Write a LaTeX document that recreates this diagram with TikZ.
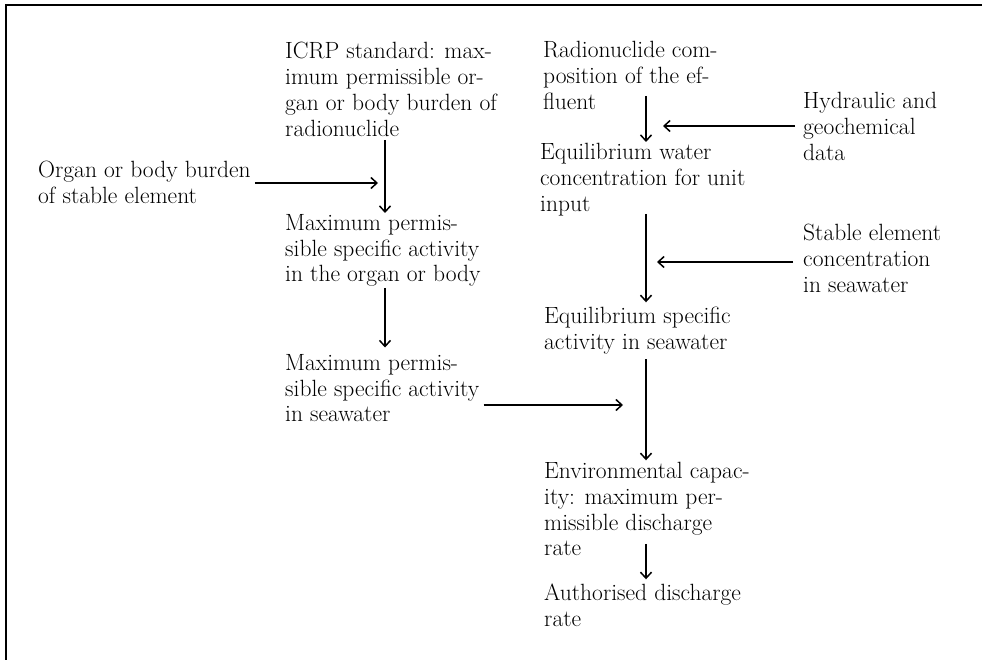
\documentclass[tikz,border=0pt]{standalone}
\usetikzlibrary{arrows.meta,positioning}
\begin{document}
\begin{tikzpicture}[x=1pt,y=-1pt,
	box/.style={anchor=north west,inner sep=0pt,align=left,font=\fontsize{23.5}{25.8}\selectfont},
	flow/.style={line width=1.5pt,-{Straight Barb[length=6pt,width=11pt]}}]
		\useasboundingbox (0,0) rectangle (982,660);
		\draw[line width=2.5pt] (6,660) -- (6,5) -- (982,5);

		\coordinate (lcol) at (385,0);
		\coordinate (rcol) at (646,0);

		% left column
		\node[box] (icrp) at (285,42) {ICRP standard: max-\\imum permissible or-\\gan or body burden of\\radionuclide};
		\node[box] (organ) at (38,161) {Organ or body burden\\of stable element};
		\node[box] (maxorgan) at (285,214) {Maximum permis-\\sible specific activity\\in the organ or body};
		\node[box] (maxsea) at (285,354) {Maximum permis-\\sible specific activity\\in seawater};

		% right column
		\node[box] (radio) at (543,41) {Radionuclide com-\\position of the ef-\\fluent};
		\node[box] (hydro) at (803,92) {Hydraulic and\\geochemical\\data};
		\node[box] (eqwater) at (540,143) {Equilibrium water\\concentration for unit\\input};
		\node[box] (stable) at (803,224) {Stable element\\concentration\\in seawater};
		\node[box] (eqspec) at (544,307) {Equilibrium specific\\activity in seawater};
		\node[box] (capacity) at (544,462) {Environmental capac-\\ity: maximum per-\\missible discharge\\rate};
		\node[box] (authorised) at (544,584) {Authorised discharge\\rate};

		\coordinate (in1) at (378,183);
		\coordinate (in2) at (663,126);
		\coordinate (in3) at (657,262);
		\coordinate (in4) at (623,405);

		\draw[flow] ([yshift=-3.5pt]icrp.south -| lcol) -- ([yshift=1pt]maxorgan.north -| lcol);
		\draw[flow] ([yshift=-1pt]maxorgan.south -| lcol) -- ([yshift=6.5pt]maxsea.north -| lcol);
		\draw[flow] ([xshift=4pt]organ.east |- in1) -- (in1);
		\draw[flow] ([xshift=4pt]maxsea.east |- in4) -- (in4);

		\draw[flow] ([yshift=13.6pt]radio.south -| rcol) -- ([yshift=1pt]eqwater.north -| rcol);
		\draw[flow] ([yshift=2pt]eqwater.south -| rcol) -- ([yshift=4.7pt]eqspec.north -| rcol);
		\draw[flow] ([yshift=-4.6pt]eqspec.south -| rcol) -- ([yshift=1.7pt]capacity.north -| rcol);
		\draw[flow] ([yshift=12.4pt]capacity.south -| rcol) -- ([yshift=4.7pt]authorised.north -| rcol);
		\draw[flow] ([xshift=-8pt]hydro.west |- in2) -- (in2);
		\draw[flow] ([xshift=-10pt]stable.west |- in3) -- (in3);
	\end{tikzpicture}
\end{document}
